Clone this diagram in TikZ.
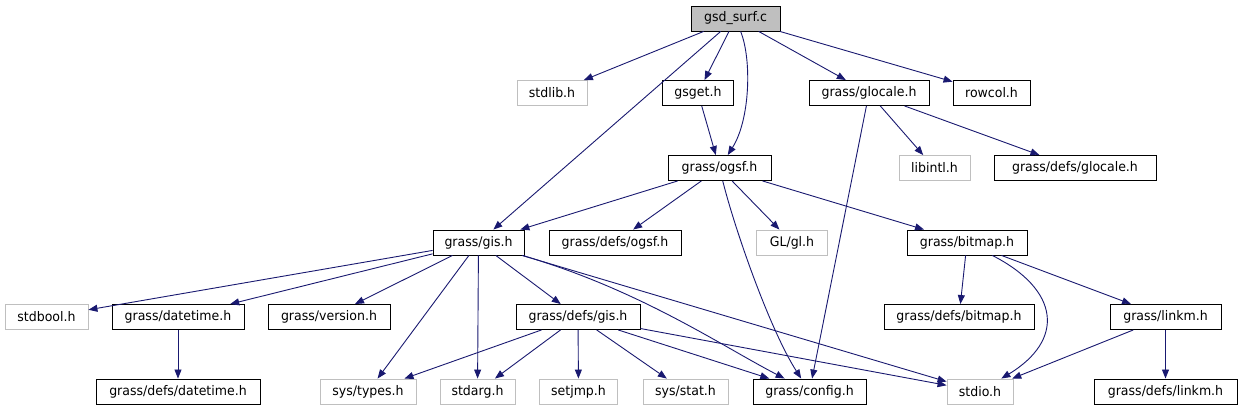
\documentclass[tikz,border=0pt]{standalone}
\usepackage{fontspec}
\setmainfont{DejaVu Sans}[FakeStretch=0.95]
\usetikzlibrary{arrows.meta}
\definecolor{edgeblue}{HTML}{191970}
\definecolor{lightbd}{HTML}{BFBFBF}
\definecolor{rootfill}{HTML}{BFBFBF}
\newcommand{\nodefont}{\fontsize{13.2pt}{15pt}\selectfont}
\tikzset{
  box/.style={draw=black, line width=0.9pt, minimum height=25pt, inner sep=0pt, fill=white, font=\nodefont},
  gbox/.style={box, draw=lightbd},
  rootbox/.style={box, fill=rootfill},
  edge/.style={draw=edgeblue, line width=0.9pt, -{Triangle[length=9pt,width=7pt]}}
}
\begin{document}
\begin{tikzpicture}[x=1pt,y=-1pt]
\useasboundingbox (0,0) rectangle (1242,411);
% row 1
\node[rootbox, minimum width=89pt] (gsd) at (735.5,18.5) {gsd\_surf.c};
% row 2
\node[gbox, minimum width=70pt] (stdlib) at (552,93) {stdlib.h};
\node[box, minimum width=71pt] (gsget) at (698,93) {gsget.h};
\node[box, minimum width=120pt] (glocale) at (869,93) {grass/glocale.h};
\node[box, minimum width=77pt] (rowcol) at (991.5,93) {rowcol.h};
% row 3
\node[box, minimum width=103pt] (ogsf) at (719.5,168) {grass/ogsf.h};
\node[gbox, minimum width=71pt] (libintl) at (934.5,168) {libintl.h};
\node[box, minimum width=162pt] (defsglocale) at (1075,168) {grass/defs/glocale.h};
% row 4
\node[box, minimum width=91pt] (gis) at (478.5,242.5) {grass/gis.h};
\node[box, minimum width=132pt] (defsogsf) at (615,242.5) {grass/defs/ogsf.h};
\node[gbox, minimum width=71pt] (gl) at (792,242.5) {GL/gl.h};
\node[box, minimum width=120pt] (bitmap) at (967,242.5) {grass/bitmap.h};
% row 5
\node[gbox, minimum width=83pt] (stdbool) at (46.5,317) {stdbool.h};
\node[box, minimum width=132pt] (datetime) at (178,317) {grass/datetime.h};
\node[box, minimum width=122pt] (version) at (329,317) {grass/version.h};
\node[box, minimum width=124pt] (defsgis) at (578,317) {grass/defs/gis.h};
\node[box, minimum width=150pt] (defsbitmap) at (959,317) {grass/defs/bitmap.h};
\node[box, minimum width=111pt] (linkm) at (1165.5,317) {grass/linkm.h};
% row 6
\node[box, minimum width=164pt] (defsdatetime) at (178,391.5) {grass/defs/datetime.h};
\node[gbox, minimum width=96pt] (systypes) at (368,391.5) {sys/types.h};
\node[gbox, minimum width=75pt] (stdarg) at (477.5,391.5) {stdarg.h};
\node[gbox, minimum width=78pt] (setjmp) at (578.5,391.5) {setjmp.h};
\node[gbox, minimum width=85pt] (sysstat) at (685.5,391.5) {sys/stat.h};
\node[box, minimum width=113pt] (config) at (809.5,391.5) {grass/config.h};
\node[gbox, minimum width=66pt] (stdio) at (980,391.5) {stdio.h};
\node[box, minimum width=143pt] (defslinkm) at (1165.5,391.5) {grass/defs/linkm.h};
% edges from gsd_surf.c
\draw[edge] (gsd) -- (stdlib);
\draw[edge] (gsd) -- (gis);
\draw[edge] (gsd) -- (gsget);
\draw[edge] (gsd) .. controls (752,60) and (750,120) .. (ogsf);
\draw[edge] (gsd) -- (glocale);
\draw[edge] (gsd) -- (rowcol);
% gsget
\draw[edge] (gsget) -- (ogsf);
% glocale
\draw[edge] (glocale) -- (config);
\draw[edge] (glocale) -- (libintl);
\draw[edge] (glocale) -- (defsglocale);
% ogsf
\draw[edge] (ogsf) -- (gis);
\draw[edge] (ogsf) -- (defsogsf);
\draw[edge] (ogsf) .. controls (735,230) and (770,330) .. (config);
\draw[edge] (ogsf) -- (gl);
\draw[edge] (ogsf) -- (bitmap);
% gis
\draw[edge] (gis) -- (stdbool);
\draw[edge] (gis) -- (datetime);
\draw[edge] (gis) -- (version);
\draw[edge] (gis) -- (systypes);
\draw[edge] (gis) -- (stdarg);
\draw[edge] (gis) -- (defsgis);
\draw[edge] (gis) .. controls (640,290) and (720,345) .. (config);
\draw[edge] (gis) -- (stdio);
% datetime
\draw[edge] (datetime) -- (defsdatetime);
% defs/gis
\draw[edge] (defsgis) -- (systypes);
\draw[edge] (defsgis) -- (stdarg);
\draw[edge] (defsgis) -- (setjmp);
\draw[edge] (defsgis) -- (sysstat);
\draw[edge] (defsgis) -- (config);
\draw[edge] (defsgis) -- (stdio);
% bitmap
\draw[edge] (bitmap) -- (defsbitmap);
\draw[edge] (bitmap) .. controls (1060,290) and (1065,340) .. (stdio);
\draw[edge] (bitmap) -- (linkm);
% linkm
\draw[edge] (linkm) -- (stdio);
\draw[edge] (linkm) -- (defslinkm);
\end{tikzpicture}
\end{document}
